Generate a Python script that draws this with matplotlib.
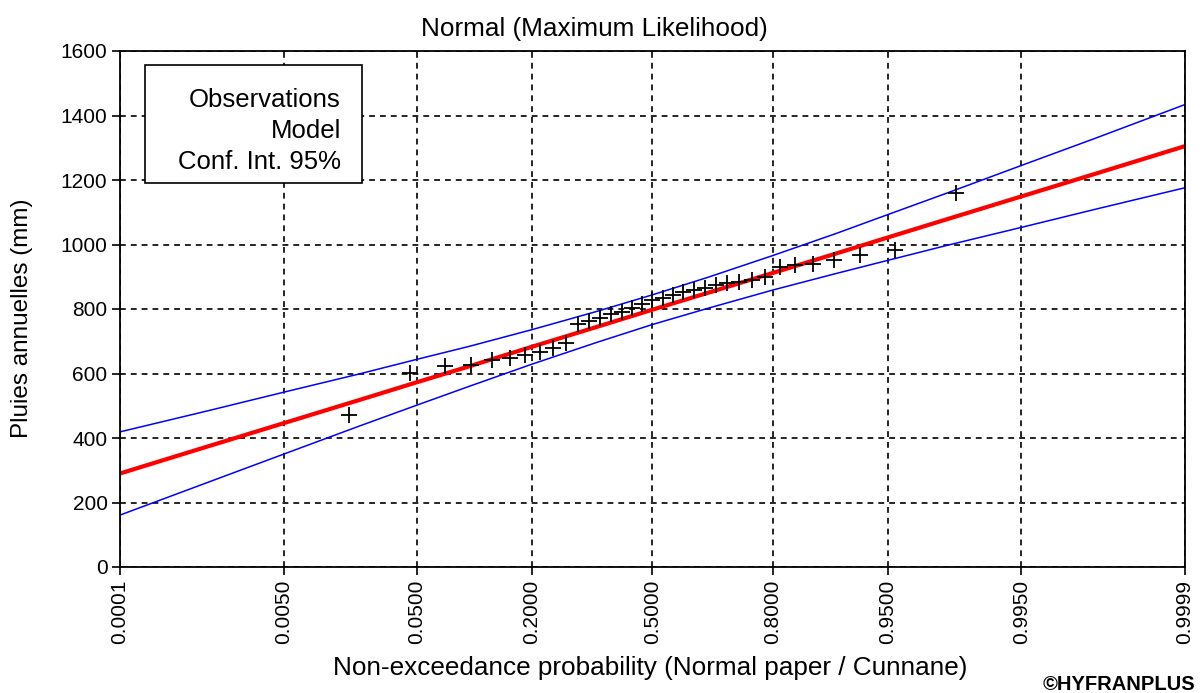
import matplotlib
matplotlib.use("Agg")
import matplotlib.pyplot as plt
from matplotlib.patches import Rectangle
from statistics import NormalDist

plt.rcParams['font.family'] = ['Liberation Sans', 'DejaVu Sans']

# ---- data ----
tick_probs = [0.0001, 0.0050, 0.0500, 0.2000, 0.5000, 0.8000, 0.9500, 0.9950, 0.9999]
tick_labels = ["0.0001", "0.0050", "0.0500", "0.2000", "0.5000", "0.8000", "0.9500", "0.9950", "0.9999"]
y_ticks = [0, 200, 400, 600, 800, 1000, 1200, 1400, 1600]

# observations: non-exceedance probability (Cunnane) and annual rainfall (mm)
obs_prob = [0.0170, 0.0455, 0.0739, 0.1023, 0.1307, 0.1591, 0.1875, 0.2159, 0.2443,
            0.2727, 0.3011, 0.3295, 0.3580, 0.3864, 0.4148, 0.4432, 0.4716, 0.5000,
            0.5284, 0.5568, 0.5852, 0.6136, 0.6420, 0.6705, 0.6989, 0.7273, 0.7557,
            0.7841, 0.8125, 0.8409, 0.8693, 0.8977, 0.9261, 0.9545, 0.9830]
obs_val = [472, 601, 623, 626, 642, 648, 657, 667, 679,
           695, 752, 762, 773, 786, 791, 803, 815, 828,
           834, 843, 853, 859, 865, 874, 881, 884, 890,
           899, 930, 936, 938, 952, 967, 983, 1160]

# model and 95% confidence interval, read at several probabilities
curve_prob = [0.0001, 0.001, 0.005, 0.02, 0.05, 0.1, 0.2, 0.35, 0.5,
              0.65, 0.8, 0.9, 0.95, 0.98, 0.995, 0.999, 0.9999]
model_val = [290, 376, 446, 517, 573, 622, 683, 745, 798,
             850, 912, 972, 1022, 1078, 1149, 1219, 1305]
ci_upper = [419, 486, 542, 598, 644, 684, 736, 793, 844,
            898, 966, 1034, 1093, 1159, 1245, 1329, 1434]
ci_lower = [161, 265, 350, 436, 502, 560, 629, 697, 752,
            802, 859, 910, 951, 997, 1053, 1109, 1176]

nd = NormalDist()
z = lambda ps: [nd.inv_cdf(p) for p in ps]

W, H = 1201, 693
fig = plt.figure(figsize=(W/100, H/100), dpi=100)
ax = fig.add_axes([120/W, 1-567/H, (1185-120)/W, (567-51)/H])

ax.plot(z(curve_prob), ci_upper, color='#0000ff', lw=1.1, zorder=3)
ax.plot(z(curve_prob), ci_lower, color='#0000ff', lw=1.1, zorder=3)
ax.plot(z(curve_prob), model_val, color='#ff0000', lw=3.0, zorder=4)
ax.plot(z(obs_prob), obs_val, linestyle='none', marker='+', color='black',
        markersize=12, markeredgewidth=1.3, zorder=5)

tz = z(tick_probs)
ax.set_xlim(tz[0], tz[-1])
ax.set_ylim(0, 1600)
ax.set_xticks(tz)
ax.set_xticklabels(tick_labels, rotation=90, fontsize=15)
ax.set_yticks(y_ticks)
ax.set_yticklabels([str(v) for v in y_ticks], fontsize=15)
ax.tick_params(direction='out', length=6, width=1.2, color='black', pad=3)
ax.grid(True, color='black', linestyle=(0, (3.5, 3)), linewidth=1.2)
ax.set_axisbelow(True)
for s in ax.spines.values():
    s.set_linewidth(1.3)
    s.set_zorder(6)

fig.text(594/W, 1-29/H, "Normal (Maximum Likelihood)", fontsize=18.8,
         ha='center', va='center')
fig.text(650/W, 1-668/H, "Non-exceedance probability (Normal paper / Cunnane)",
         fontsize=18.8, ha='center', va='center')
fig.text(22/W, 1-318/H, "Pluies annuelles (mm)", fontsize=17.5, rotation=90,
         ha='center', va='center')

# legend box (text only)
x0, y0 = (145-120)/1065, (567-183)/516
w, h = (362-145)/1065, (183-65)/516
ax.add_patch(Rectangle((x0, y0), w, h, transform=ax.transAxes, facecolor='white',
                       edgecolor='black', lw=1.2, zorder=7))
xr = (341-120)/1065
for txt, ypx in [("Observations", 100), ("Model", 131), ("Conf. Int. 95%", 162)]:
    ax.text(xr, (567-ypx)/516, txt, transform=ax.transAxes, ha='right', va='center',
            fontsize=18.5, zorder=8)

fig.text(1195/W, 1-684/H, "©HYFRANPLUS", ha='right', va='center',
         fontsize=14.5, fontweight='bold')

fig.savefig("out.png", dpi=100)
